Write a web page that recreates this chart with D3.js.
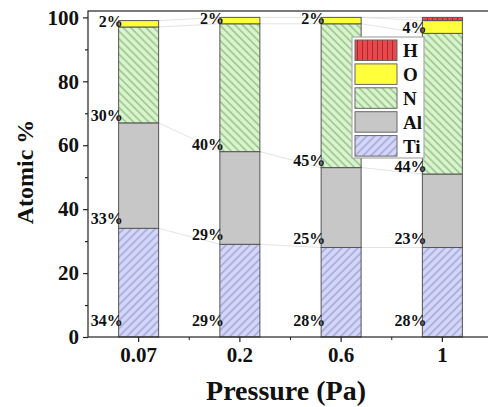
<!DOCTYPE html>
<html>
<head>
<meta charset="utf-8">
<script src="https://cdn.jsdelivr.net/npm/d3@7"></script>
<style>
  html, body { margin: 0; padding: 0; background: #fff; }
  svg { display: block; font-family: "Liberation Serif", "Times New Roman", serif; font-weight: bold; }
</style>
</head>
<body>
<svg id="chart" width="488" height="407"></svg>
<script>
// Composition data (atomic %) per deposition pressure
const pressures = ["0.07", "0.2", "0.6", "1"];
const elements = ["Ti", "Al", "N", "O", "H"];
const ti = [34, 29, 28, 28];
const al = [33, 29, 25, 23];
const n  = [30, 40, 45, 44];
const o  = [2, 2, 2, 4];
const h  = [0, 0, 0, 1];
const yTicks = [0, 20, 40, 60, 80, 100];
const yMinorTicks = [10, 30, 50, 70, 90];
const legendOrder = ["H", "O", "N", "Al", "Ti"];

const svg = d3.select("#chart");
const margin = { left: 88, right: 493, top: 11, bottom: 337 };

const table = pressures.map((p, i) => ({ p, Ti: ti[i], Al: al[i], N: n[i], O: o[i], H: h[i] }));
const stack = d3.stack().keys(elements)(table);

const x = d3.scaleBand().domain(pressures).range([margin.left, margin.right])
  .paddingInner(0.605).paddingOuter(0.3025);
const y = d3.scaleLinear().domain([0, 102]).range([margin.bottom, margin.top]);
const bw = x.bandwidth();
const step = x.step();

// Fill patterns
const defs = svg.append("defs");
function hatch(id, bg, stroke, angle, gap) {
  const pat = defs.append("pattern").attr("id", id)
    .attr("patternUnits", "userSpaceOnUse")
    .attr("width", gap).attr("height", gap)
    .attr("patternTransform", `rotate(${angle})`);
  pat.append("rect").attr("width", gap).attr("height", gap).attr("fill", bg);
  pat.append("line").attr("x1", gap / 2).attr("x2", gap / 2).attr("y1", 0).attr("y2", gap)
    .attr("stroke", stroke).attr("stroke-width", 1);
}
hatch("pTi", "#d3d6f8", "#8a8fc4", 45, 5.6);
hatch("pN", "#d8f4cb", "#7ea873", -45, 5.4);
hatch("pH", "#e8474c", "#a32b2e", 0, 5);

const fills = { Ti: "url(#pTi)", Al: "#c7c7c7", N: "url(#pN)", O: "#ffff3c", H: "url(#pH)" };

// Faint connector lines between neighbouring bars at each stack boundary
const conn = svg.append("g").attr("stroke", "#dcdcdc").attr("stroke-width", 0.8);
stack.forEach(layer => {
  for (let i = 0; i < pressures.length - 1; i++) {
    const a = layer[i], b = layer[i + 1];
    if (a[1] - a[0] === 0 && b[1] - b[0] === 0) continue;
    conn.append("line")
      .attr("x1", x(pressures[i]) + bw).attr("y1", y(a[1]))
      .attr("x2", x(pressures[i + 1])).attr("y2", y(b[1]));
  }
});

// Stacked bars
const barG = svg.append("g");
stack.forEach(layer => {
  barG.selectAll(null).data(layer.filter(d => d[1] - d[0] > 0)).enter().append("rect")
    .attr("x", d => x(d.data.p))
    .attr("y", d => y(d[1]))
    .attr("width", bw)
    .attr("height", d => y(d[0]) - y(d[1]))
    .attr("fill", fills[layer.key])
    .attr("stroke", "#555")
    .attr("stroke-width", 1);
});

// Percentage labels at the lower edge of each segment
const labelOffset = { Ti: -11, Al: -4, N: -2, O: 0 };
const labG = svg.append("g").attr("font-size", 16).attr("text-anchor", "end").attr("fill", "#111");
stack.filter(l => l.key !== "H").forEach(layer => {
  labG.selectAll(null).data(layer).enter().append("text")
    .attr("x", d => x(d.data.p) + 4)
    .attr("y", d => y(d[0]) + labelOffset[layer.key])
    .text(d => `${d.data[layer.key]}%`);
});

// Frame
svg.append("rect")
  .attr("x", margin.left).attr("y", margin.top)
  .attr("width", margin.right - margin.left).attr("height", margin.bottom - margin.top)
  .attr("fill", "none").attr("stroke", "#222").attr("stroke-width", 1.2);

// Y axis
const yAxis = svg.append("g").attr("transform", `translate(${margin.left},0)`)
  .call(d3.axisLeft(y).tickValues(yTicks).tickSize(5).tickPadding(4));
yAxis.select(".domain").remove();
svg.append("g").attr("transform", `translate(${margin.left},0)`)
  .call(d3.axisLeft(y).tickValues(yMinorTicks).tickSize(3).tickFormat(""))
  .select(".domain").remove();

// X axis
const xAxis = svg.append("g").attr("transform", `translate(0,${margin.bottom})`)
  .call(d3.axisBottom(x).tickSize(5).tickPadding(5));
xAxis.select(".domain").remove();
const minorX = pressures.slice(1).map(p => x(p) + bw / 2 - step / 2);
svg.append("g").selectAll("line").data(minorX).enter().append("line")
  .attr("x1", d => d).attr("x2", d => d)
  .attr("y1", margin.bottom).attr("y2", margin.bottom + 3)
  .attr("stroke", "#222");

svg.selectAll(".tick line").attr("stroke", "#222").attr("stroke-width", 1.2);
svg.selectAll(".tick text").attr("font-size", 21).attr("font-family", "Liberation Serif")
  .attr("font-weight", "bold").attr("fill", "#111");

// Axis titles
svg.append("text").attr("x", 286).attr("y", 400).attr("text-anchor", "middle")
  .attr("font-size", 28).attr("fill", "#111").text("Pressure (Pa)");
svg.append("text").attr("transform", "translate(33,172) rotate(-90)").attr("text-anchor", "middle")
  .attr("font-size", 24).attr("fill", "#111").text("Atomic %");

// Legend
const lg = svg.append("g");
lg.append("rect").attr("x", 352).attr("y", 37).attr("width", 72).attr("height", 121)
  .attr("fill", "#fff").attr("stroke", "#aaa").attr("stroke-width", 1.2);
legendOrder.forEach((k, i) => {
  const yy = 40 + i * 23.9;
  lg.append("rect").attr("x", 355).attr("y", yy).attr("width", 42).attr("height", 20.5)
    .attr("fill", fills[k]).attr("stroke", "#666").attr("stroke-width", 1);
  lg.append("text").attr("x", 403).attr("y", yy + 17).attr("font-size", 19)
    .attr("fill", "#111").text(k);
});
</script>
</body>
</html>
